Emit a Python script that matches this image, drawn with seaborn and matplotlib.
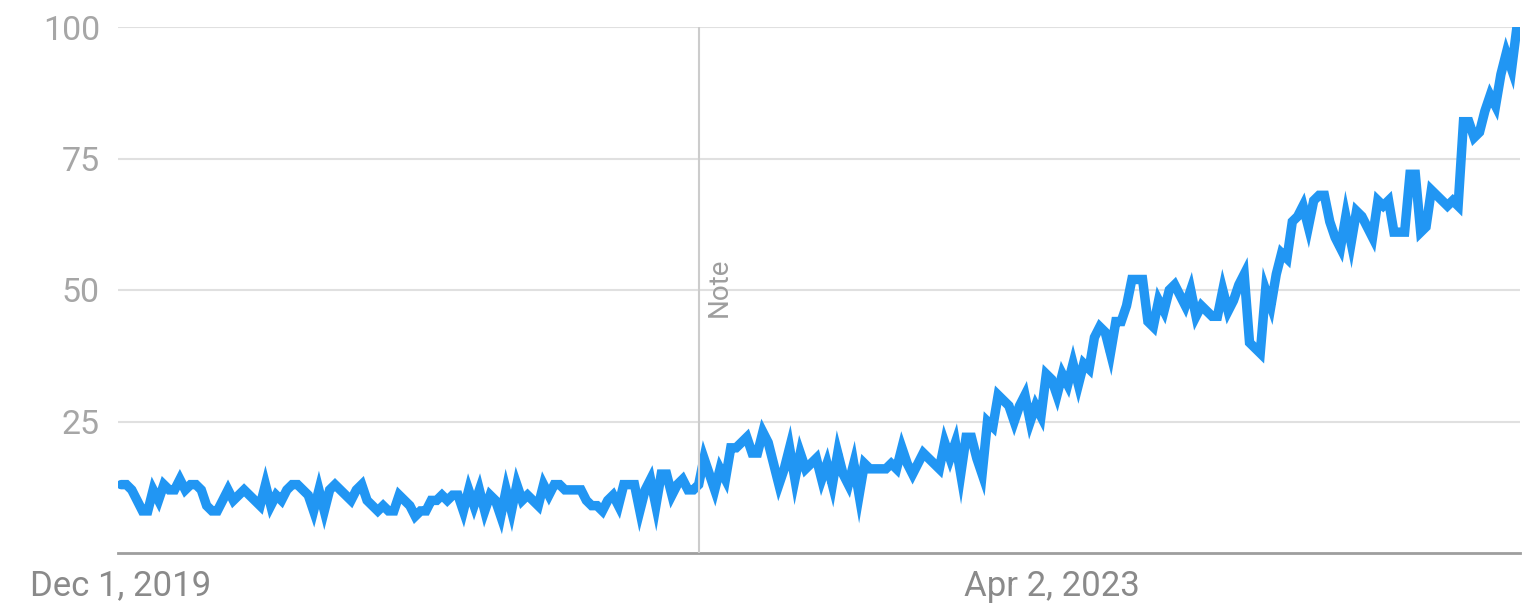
import matplotlib
matplotlib.use("Agg")
import matplotlib.pyplot as plt
import pandas as pd
import seaborn as sns

# ---- data (weekly interest, Google-Trends style) ----
start_date = "2019-12-01"
interest = [
    13, 13, 12, 10, 8, 8, 12, 10, 13, 12, 12, 14, 12, 13, 13, 12, 9, 8, 8, 10,
    12, 10, 11, 12, 11, 10, 9, 13, 9, 11, 10, 12, 13, 13, 12, 11,
    8, 12, 8, 12, 13, 12, 11, 10, 12, 13, 10, 9, 8, 9, 8, 8, 11, 10, 9, 7,
    8, 8, 10, 10, 11, 10, 11, 11, 8, 12, 9, 12, 8,
    11, 10, 7, 12, 8, 13, 10, 11, 10, 9, 13, 11, 13, 13, 12, 12, 12, 12, 10, 9,
    9, 8, 10, 11, 9, 13, 13, 13, 8, 12, 14, 9, 15, 15, 11, 13, 14, 12,
    12, 13, 18, 15, 12, 16, 14, 20, 20, 21, 22, 19, 19, 23, 21, 17, 13, 16, 20, 14,
    19, 16, 17, 18, 14, 17, 13, 19, 15, 13, 17, 11, 17, 16, 16, 16, 16,
    17, 16, 20, 17, 15, 17, 19, 18, 17, 16, 21, 18, 21, 15, 22, 22, 18, 15, 25, 24,
    30, 29, 28, 25, 28, 30, 25, 28, 26, 34, 33, 30, 34, 32, 36, 32, 36,
    35, 41, 43, 42, 38, 44, 44, 47, 52, 52, 52, 44, 43, 48, 46, 50, 51, 49, 47, 50,
    45, 47, 46, 45, 45, 50, 46, 48, 51, 53, 40, 39, 38, 50, 47, 53, 57, 56, 63, 64, 66,
    62, 67, 68, 68, 63, 60, 58, 64, 59, 65, 64, 62, 60, 67, 66, 67, 61, 61, 61, 72,
    72, 61, 62, 69, 68, 67, 66, 67, 66, 82, 82, 79, 80, 84, 87, 85, 91, 95, 92, 100,
]
tick_dates = ["2019-12-01", "2023-04-02"]
tick_labels = ["Dec 1, 2019", "Apr 2, 2023"]
y_ticks = [25, 50, 75, 100]
note_date = "2021-12-26"
note_label = "Note"

# ---- style ----
sns.set_style("white")
plt.rcParams["font.family"] = ["Roboto", "DejaVu Sans"]

dates = pd.date_range(start_date, periods=len(interest), freq="7D")
df = pd.DataFrame({"date": dates, "interest": interest})

W, H = 1526, 608
fig = plt.figure(figsize=(W / 100, H / 100), dpi=100)
ax = fig.add_axes([118 / W, 55 / H, (1520 - 118) / W, (553 - 27) / H])

ax.set_ylim(0, 100)
ax.set_xlim(dates[0] - pd.Timedelta(days=4), dates[-1] + pd.Timedelta(days=4))

# grid lines
ax.set_yticks(y_ticks)
ax.yaxis.grid(True, color="#e0e0e0", linewidth=1.5)
ax.xaxis.grid(False)
ax.set_axisbelow(True)

sns.lineplot(data=df, x="date", y="interest", ax=ax, color="#2196F3",
             linewidth=6.8, solid_joinstyle="miter", zorder=2)

# note marker
nd = pd.Timestamp(note_date)
ax.axvline(nd, color="#cccccc", linewidth=1.5, zorder=3)
ax.annotate(note_label, xy=(nd, 50.6), xytext=(15, 0), textcoords="offset points",
            rotation=90, ha="center", va="center", color="#9e9e9e", fontsize=20)

# ticks
ax.set_xticks(pd.to_datetime(tick_dates))
ax.set_xticklabels(tick_labels)
ax.set_yticklabels([str(v) for v in y_ticks])
ax.tick_params(axis="x", length=0, pad=12, labelsize=25, labelcolor="#8a8a8a")
ax.tick_params(axis="y", length=0, pad=13, labelsize=24.5, labelcolor="#a6a6a6")
ax.set_xlabel("")
ax.set_ylabel("")

for s in ["left", "right", "top"]:
    ax.spines[s].set_visible(False)
ax.spines["bottom"].set_color("#9e9e9e")
ax.spines["bottom"].set_linewidth(2)

fig.savefig("out.png", dpi=100)
